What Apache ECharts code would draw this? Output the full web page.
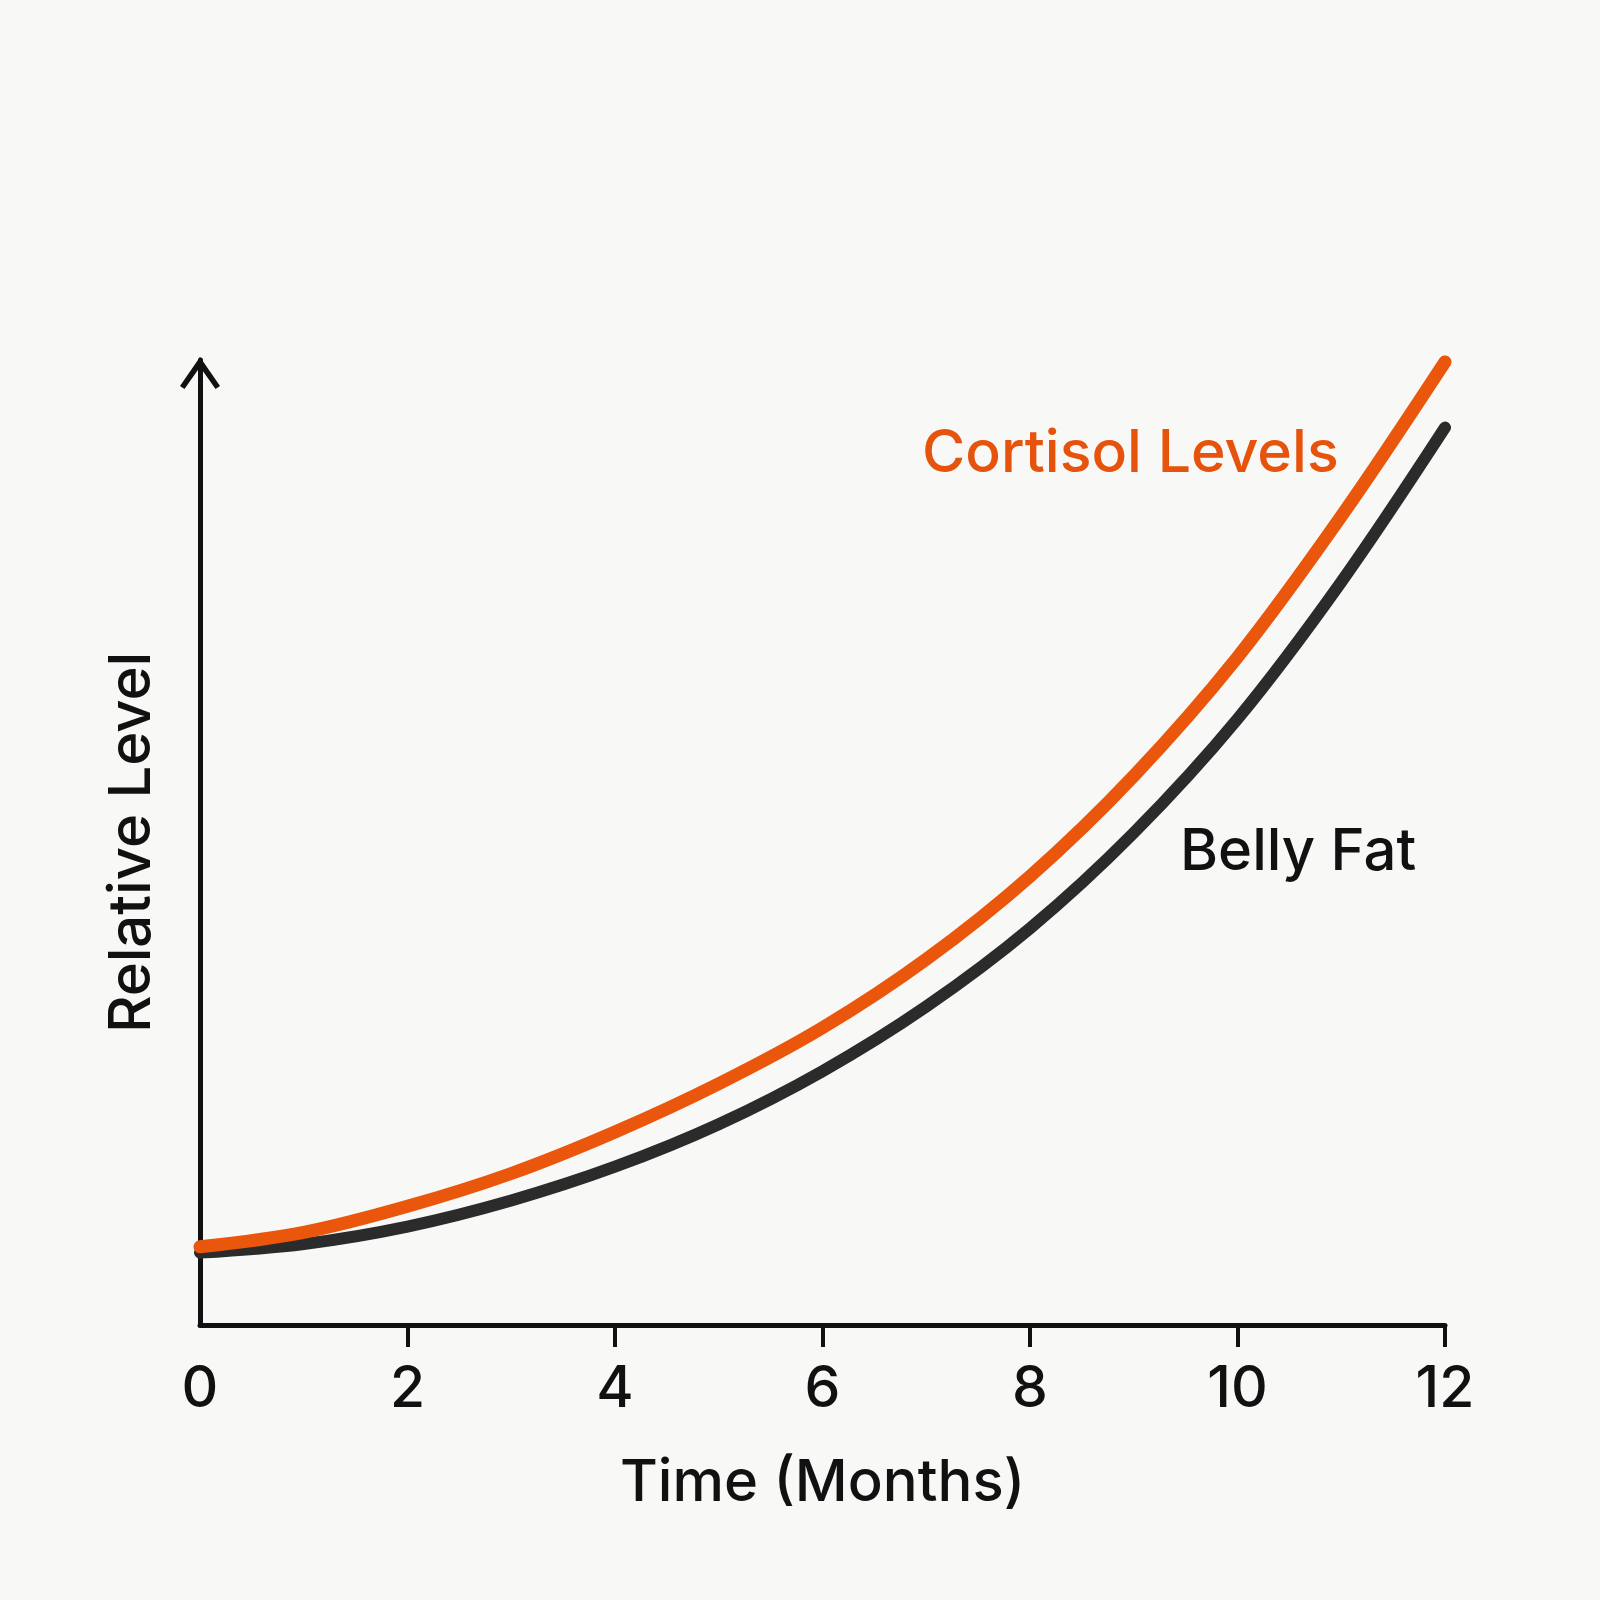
<!DOCTYPE html>
<html>
<head>
<meta charset="utf-8">
<script src="https://cdn.jsdelivr.net/npm/echarts@6/dist/echarts.min.js"></script>
<style>
  html, body { margin: 0; padding: 0; background: #f8f8f6; }
  #chart { width: 1600px; height: 1600px; }
</style>
</head>
<body>
<div id="chart"></div>
<script>
const months = [0, 1, 2, 3, 4, 5, 6, 7, 8, 9, 10, 11, 12];
const cortisolLevels = [8.1, 9.6, 12.3, 15.7, 20.0, 25.0, 30.8, 37.9, 46.5, 56.9, 69.2, 83.8, 99.8];
const bellyFat = [7.5, 8.4, 10.2, 12.9, 16.4, 20.8, 26.3, 33.0, 41.1, 51.0, 62.8, 77.0, 93.0];
const xTickValues = [2, 4, 6, 8, 10, 12];
const xAxisTitle = 'Time (Months)';
const yAxisTitle = 'Relative Level';
const seriesNames = ['Cortisol Levels', 'Belly Fat'];

const FONT = 'Inter';
const chart = echarts.init(document.getElementById('chart'), null, { renderer: 'canvas' });

const option = {
  backgroundColor: '#f8f8f6',
  animation: false,
  grid: { left: 200, right: 155, top: 360, bottom: 275, containLabel: false },
  xAxis: {
    type: 'value',
    min: 0, max: 12, interval: 2,
    name: xAxisTitle,
    nameLocation: 'middle',
    nameGap: 130,
    nameTextStyle: { fontFamily: FONT, fontWeight: 500, fontSize: 58, color: '#111' },
    axisLine: { show: true, lineStyle: { color: '#111', width: 5 } },
    axisTick: { show: true, length: 22, lineStyle: { color: '#111', width: 4 }, customValues: xTickValues },
    axisLabel: { show: true, margin: 36, fontFamily: FONT, fontWeight: 500, fontSize: 57, color: '#111' },
    splitLine: { show: false }
  },
  yAxis: {
    type: 'value',
    min: 0, max: 100,
    name: yAxisTitle,
    nameLocation: 'middle',
    nameGap: 38,
    nameTextStyle: { fontFamily: FONT, fontWeight: 500, fontSize: 58, color: '#111' },
    axisLine: {
      show: true,
      lineStyle: { color: '#111', width: 5, cap: 'round' },
      symbol: ['none', 'path://M20,0 L40,29 L35.5,32 L20,10 L4.5,32 L0,29 Z'],
      symbolSize: [40, 33],
      symbolOffset: [0, -13]
    },
    axisTick: { show: false },
    axisLabel: { show: false },
    splitLine: { show: false }
  },
  series: [
    {
      name: seriesNames[1],
      type: 'line',
      data: months.map((m, i) => [m, bellyFat[i]]),
      smooth: 0.35,
      showSymbol: false,
      symbol: 'none',
      clip: false,
      lineStyle: { color: '#2b2b2b', width: 12, cap: 'round' },
      z: 2
    },
    {
      name: seriesNames[0],
      type: 'line',
      data: months.map((m, i) => [m, cortisolLevels[i]]),
      smooth: 0.35,
      showSymbol: false,
      symbol: 'none',
      clip: false,
      lineStyle: { color: '#ea560b', width: 13, cap: 'round' },
      z: 3
    }
  ],
  graphic: [
    {
      type: 'text', x: 922, y: 454,
      style: { text: seriesNames[0], fill: '#e6530d', fontFamily: FONT, fontWeight: 500, fontSize: 59,
               align: 'left', verticalAlign: 'middle', textAlign: 'left', textVerticalAlign: 'middle' }
    },
    {
      type: 'text', x: 1180, y: 853,
      style: { text: seriesNames[1], fill: '#111', fontFamily: FONT, fontWeight: 500, fontSize: 58,
               align: 'left', verticalAlign: 'middle', textAlign: 'left', textVerticalAlign: 'middle' }
    }
  ]
};
chart.setOption(option);
</script>
</body>
</html>
